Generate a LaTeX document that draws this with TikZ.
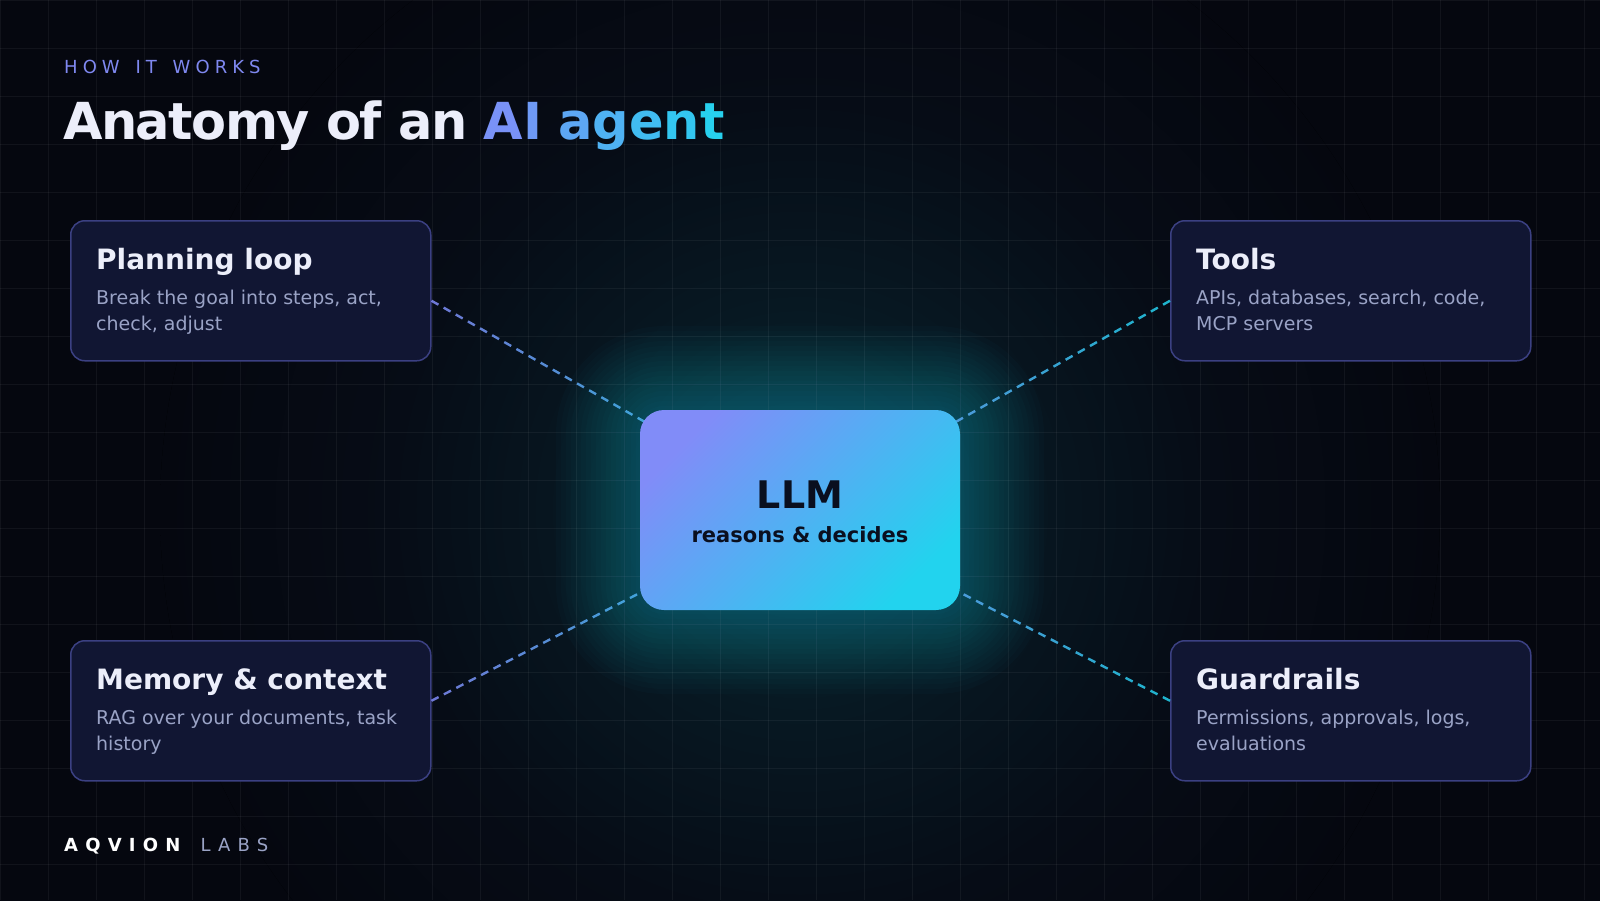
\documentclass[tikz,border=0pt]{standalone}
\usepackage{fontspec}
\setmainfont{DejaVu Sans}
\newfontfamily\kickfont[LetterSpace=28]{DejaVu Sans}
\newfontfamily\footfont[LetterSpace=40]{DejaVu Sans}
\newfontfamily\headfont[LetterSpace=-3]{DejaVu Sans}
\usetikzlibrary{calc}
\definecolor{bgc}{HTML}{05070F}
\definecolor{cindigo}{HTML}{818CF8}
\definecolor{ccyan}{HTML}{22D3EE}
\definecolor{cardfill}{HTML}{111633}
\definecolor{cardline}{HTML}{3B4082}
\definecolor{ctitle}{HTML}{ECEEFA}
\definecolor{cbody}{HTML}{9AA3C6}
\definecolor{ckick}{HTML}{7F88F0}
\definecolor{cllmtext}{HTML}{0A0F1F}
\definecolor{glowA}{HTML}{0A2A34}
\definecolor{glowB}{HTML}{071822}
\definecolor{glowC}{HTML}{060C16}
\pgfdeclareradialshading{bigglow}{\pgfpoint{0bp}{0bp}}{color(0bp)=(glowA); color(8bp)=(glowB); color(16bp)=(glowC); color(25bp)=(bgc); color(50bp)=(bgc)}
\tikzset{
  cardbox/.style={draw=cardline, fill=cardfill, line width=1.5pt, rounded corners=14pt,
    minimum width=360pt, minimum height=140pt, inner sep=0pt},
  cardtitle/.style={inner sep=0pt, text=ctitle, font=\fontsize{28}{34}\selectfont\bfseries},
  cardbody/.style={inner sep=0pt, text=cbody, font=\fontsize{19}{26}\selectfont},
  conn/.style={line width=2.4pt, opacity=0.85},
  gridline/.style={white, opacity=0.05, line width=1pt},
}
\newcommand{\card}[6]{%
  \node[cardbox, anchor=north west] (#1) at (#2,#3) {};
  \node[cardtitle, anchor=base west] (#1-t) at ($(#1.north west)+(26,49)$) {#4};
  \node[cardbody, anchor=base west] (#1-b1) at ($(#1.north west)+(26,84)$) {#5};
  \node[cardbody, anchor=base west] (#1-b2) at ($(#1.north west)+(26,110)$) {#6};
}
\newcommand{\gline}[5]{%
  \pgfmathtruncatemacro{\gnd}{#3/14}%
  \foreach \gi in {0,...,\gnd}{%
    \pgfmathsetmacro{\gta}{\gi*14/#3}%
    \pgfmathsetmacro{\gtb}{min(1,(\gi*14+8)/#3)}%
    \pgfmathtruncatemacro{\gpc}{100*(#4+(#5-#4)*(\gta+\gtb)/2)}%
    \draw[conn, draw=ccyan!\gpc!cindigo] ($(#1)!\gta!(#2)$) -- ($(#1)!\gtb!(#2)$);
  }}
\begin{document}
\begin{tikzpicture}[x=1pt,y=-1pt]
\useasboundingbox (0,0) rectangle (1600,900);
\begin{scope}
\clip (0,0) rectangle (1600,900);
\fill[bgc] (-10,-10) rectangle (1610,910);
% broad glow
\fill[shading=bigglow] (800,510) circle (640);
% grid
\foreach \gx in {0,48,...,1600} \draw[gridline] (\gx,0) -- (\gx,900);
\foreach \gy in {0,48,...,900} \draw[gridline] (0,\gy) -- (1600,\gy);
\end{scope}
% llm centre
\coordinate (llmc) at (800,510);
% halo around LLM
\foreach \e in {4,9,...,84}{%
  \pgfmathsetmacro{\rr}{24+\e}%
  \fill[ccyan, opacity=0.02, rounded corners=\rr pt]
    ($(llmc)+(-160-\e,-100-\e)$) rectangle ($(llmc)+(160+\e,100+\e)$);
}
% header
\node[anchor=base west, inner sep=0pt, text=ckick, font=\kickfont\fontsize{18}{22}\selectfont] (kicker) at (64,73)
  {HOW\hspace{0.28em} IT\hspace{0.28em} WORKS};
\node[anchor=base west, inner sep=0pt, font=\headfont\fontsize{51}{60}\selectfont\bfseries] (title) at (63,139)
  {\color{ctitle}Anatomy of an \color{ccyan!8!cindigo}A\color{ccyan!20!cindigo}I \color{ccyan!38!cindigo}a\color{ccyan!53!cindigo}g\color{ccyan!68!cindigo}e\color{ccyan!82!cindigo}n\color{ccyan!95!cindigo}t};
% cards
\card{plan}{70}{220}{Planning loop}{Break the goal into steps, act,}{check, adjust}
\card{tools}{1170}{220}{Tools}{APIs, databases, search, code,}{MCP servers}
\card{mem}{70}{640}{Memory \& context}{RAG over your documents, task}{history}
\card{guard}{1170}{640}{Guardrails}{Permissions, approvals, logs,}{evaluations}
% connector end points
\coordinate (pA) at ([yshift=-10pt]plan.east);
\coordinate (tA) at ([yshift=-10pt]tools.west);
\coordinate (mA) at ([yshift=10pt]mem.east);
\coordinate (gA) at ([yshift=10pt]guard.west);
\gline{pA}{llmc}{425.4}{0}{1}
\gline{tA}{llmc}{425.4}{1}{0}
\gline{mA}{llmc}{415.9}{0}{1}
\gline{gA}{llmc}{415.9}{1}{0}
% LLM
\node[minimum width=320pt, minimum height=200pt, inner sep=0pt, rounded corners=24pt,
  top color=cindigo, bottom color=ccyan, shading angle=45] (llm) at (llmc) {};
\node[anchor=base, inner sep=0pt, text=cllmtext, font=\fontsize{38}{44}\selectfont\bfseries] (llm-t) at (800,508) {LLM};
\node[anchor=base, inner sep=0pt, text=cllmtext, font=\fontsize{21}{26}\selectfont\bfseries] (llm-s) at (800,542) {reasons \& decides};
% footer
\node[anchor=base west, inner sep=0pt, font=\footfont\fontsize{18}{22}\selectfont] (footer) at (64,851)
  {\textcolor{white}{\bfseries AQVION}\hspace{0.4em} \textcolor{cbody}{LABS}};
\end{tikzpicture}
\end{document}
